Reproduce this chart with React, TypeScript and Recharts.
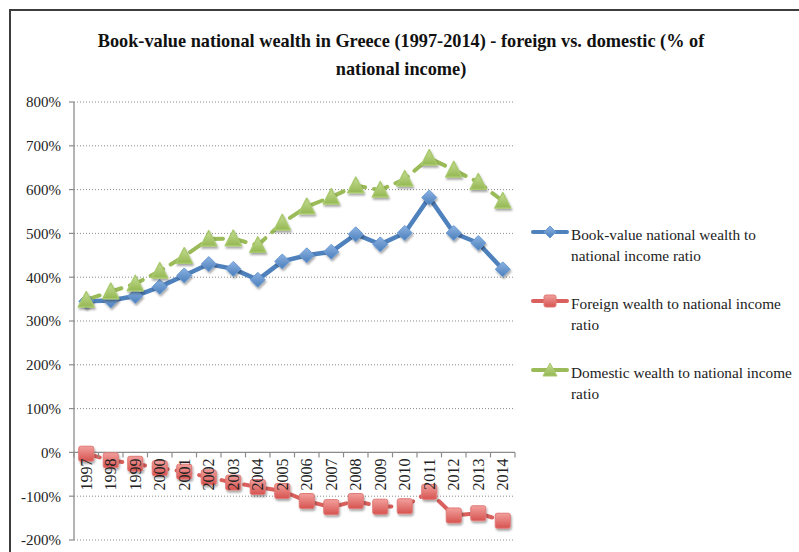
import React from 'react';
import { LineChart, Line, XAxis, YAxis, CartesianGrid, ReferenceLine } from 'recharts';

const YEARS = ['1997', '1998', '1999', '2000', '2001', '2002', '2003', '2004', '2005', '2006', '2007', '2008', '2009', '2010', '2011', '2012', '2013', '2014'];
const NATIONAL = [345, 347, 357, 378, 404, 430, 419, 394, 436, 450, 458, 498, 475, 501, 582, 501, 478, 418];
const FOREIGN = [-3, -18, -26, -36, -44, -57, -69, -79, -88, -111, -125, -111, -124, -123, -90, -144, -139, -156];
const DOMESTIC = [348, 367, 385, 414, 448, 487, 488, 473, 524, 561, 583, 609, 599, 624, 672, 645, 617, 574];
const Y_TICKS = [-200, -100, 0, 100, 200, 300, 400, 500, 600, 700, 800];
const SERIES_NAMES = [
  'Book-value national wealth to national income ratio',
  'Foreign wealth to national income ratio',
  'Domestic wealth to national income ratio',
];
const TITLE_LINES = ['Book-value national wealth in Greece (1997-2014) - foreign vs. domestic (% of', 'national income)'];

const data = YEARS.map((year, i) => ({
  year,
  national: NATIONAL[i],
  foreign: FOREIGN[i],
  domestic: DOMESTIC[i],
}));

const W = 799;
const H = 552;
const X_AXIS_H = 12;
const MARGIN = { top: 102, right: 284, bottom: 0, left: 0 };
const Y_AXIS_W = 74;
const Y_MIN = -200;
const Y_MAX = 800;
const FONT = '"Liberation Serif", "Times New Roman", serif';

const BLUE = '#4F81BD';
const RED = '#D9605C';
const GREEN = '#9BBB59';

const plotTop = MARGIN.top;
const plotBottom = H - MARGIN.bottom - X_AXIS_H;
const plotLeft = MARGIN.left + Y_AXIS_W;
const plotRight = W - MARGIN.right;
const zeroY = plotTop + ((Y_MAX - 0) / (Y_MAX - Y_MIN)) * (plotBottom - plotTop);
const band = (plotRight - plotLeft) / YEARS.length;

const Diamond = (p: any) => {
  const { cx, cy, index } = p;
  if (cx == null || cy == null) return <g key={`dm${index}`} />;
  const r = 7.5;
  return (
    <polygon
      key={`dm${index}`}
      points={`${cx},${cy - r} ${cx + r},${cy} ${cx},${cy + r} ${cx - r},${cy}`}
      fill="url(#gBlue)"
      stroke="#6A9AD4"
      strokeWidth={1}
      filter="url(#shadow)"
    />
  );
};

const Square = (p: any) => {
  const { cx, cy, index } = p;
  if (cx == null || cy == null) return <g key={`sq${index}`} />;
  const r = 7.5;
  return (
    <rect
      key={`sq${index}`}
      x={cx - r}
      y={cy - r}
      width={2 * r}
      height={2 * r}
      rx={2}
      fill="url(#gRed)"
      stroke="#E07A77"
      strokeWidth={1}
      filter="url(#shadow)"
    />
  );
};

const Triangle = (p: any) => {
  const { cx, cy, index } = p;
  if (cx == null || cy == null) return <g key={`tr${index}`} />;
  return (
    <polygon
      key={`tr${index}`}
      points={`${cx},${cy - 8.5} ${cx + 8},${cy + 7} ${cx - 8},${cy + 7}`}
      fill="url(#gGreen)"
      stroke="#A9C96E"
      strokeWidth={1.5}
      strokeLinejoin="round"
      filter="url(#shadow)"
    />
  );
};

const XTick = (p: any) => {
  const { x, payload, index } = p;
  const isLast = index === YEARS.length - 1;
  return (
    <g>
      <line x1={x - band / 2} y1={zeroY} x2={x - band / 2} y2={zeroY + 5} stroke="#8c8c8c" strokeWidth={1.2} />
      {isLast && <line x1={x + band / 2} y1={zeroY} x2={x + band / 2} y2={zeroY + 5} stroke="#8c8c8c" strokeWidth={1.2} />}
      <text
        transform={`translate(${x},${zeroY + 6}) rotate(-90)`}
        textAnchor="end"
        dominantBaseline="central"
        fontFamily={FONT}
        fontSize={16}
        fill="#222"
      >
        {payload.value}
      </text>
    </g>
  );
};

const LegendIcon = ({ kind, color }: { kind: number; color: string }) => (
  <svg width={38} height={16} style={{ flex: '0 0 auto', overflow: 'visible' }}>
    <line x1={2} y1={8} x2={36} y2={8} stroke={color} strokeWidth={4} strokeLinecap="round" />
    {kind === 0 && <polygon points="19,2 25,8 19,14 13,8" fill="url(#gBlueL)" stroke="#6A9AD4" />}
    {kind === 1 && <rect x={13} y={2} width={12} height={12} rx={2} fill="url(#gRedL)" stroke="#E07A77" />}
    {kind === 2 && <polygon points="19,1 26,14 12,14" fill="url(#gGreenL)" stroke="#A9C96E" strokeLinejoin="round" />}
    <defs>
      <linearGradient id="gBlueL" x1="0" y1="0" x2="0" y2="1">
        <stop offset="0" stopColor="#8DB3E2" />
        <stop offset="1" stopColor="#4A7EBB" />
      </linearGradient>
      <linearGradient id="gRedL" x1="0" y1="0" x2="0" y2="1">
        <stop offset="0" stopColor="#F2A09D" />
        <stop offset="1" stopColor="#D6534F" />
      </linearGradient>
      <linearGradient id="gGreenL" x1="0" y1="0" x2="0" y2="1">
        <stop offset="0" stopColor="#C7DE95" />
        <stop offset="1" stopColor="#94B752" />
      </linearGradient>
    </defs>
  </svg>
);

const COLORS = [BLUE, RED, GREEN];

export default function App() {
  return (
    <div style={{ position: 'absolute', left: 0, top: 0, width: W, height: H, overflow: 'hidden', background: '#fff' }}>
      <div
        style={{
          position: 'absolute',
          left: 9,
          top: 9,
          width: 830,
          height: 600,
          border: '2px solid #3d3d3d',
          boxSizing: 'border-box',
        }}
      />
      <div
        style={{
          position: 'absolute',
          left: 0,
          top: 27,
          width: 802,
          textAlign: 'center',
          fontFamily: FONT,
          fontWeight: 'bold',
          fontSize: 18.3,
          lineHeight: '28px',
          color: '#111',
        }}
      >
        {TITLE_LINES.map((t, i) => (
          <div key={i}>{t}</div>
        ))}
      </div>
      <div style={{ position: 'absolute', left: 0, top: 0 }}>
        <LineChart width={W} height={H} data={data} margin={MARGIN}>
          <defs>
            <filter id="shadow" x="-50%" y="-50%" width="200%" height="200%">
              <feDropShadow dx="1" dy="2" stdDeviation="1.2" floodColor="#000" floodOpacity="0.35" />
            </filter>
            <linearGradient id="gBlue" x1="0" y1="0" x2="0" y2="1">
              <stop offset="0" stopColor="#8DB3E2" />
              <stop offset="1" stopColor="#4A7EBB" />
            </linearGradient>
            <linearGradient id="gRed" x1="0" y1="0" x2="0" y2="1">
              <stop offset="0" stopColor="#F2A09D" />
              <stop offset="1" stopColor="#D6534F" />
            </linearGradient>
            <linearGradient id="gGreen" x1="0" y1="0" x2="0" y2="1">
              <stop offset="0" stopColor="#C7DE95" />
              <stop offset="1" stopColor="#94B752" />
            </linearGradient>
          </defs>
          <CartesianGrid vertical={false} stroke="#8a8a8a" strokeDasharray="1 2" />
          <YAxis
            type="number"
            domain={[Y_MIN, Y_MAX]}
            ticks={Y_TICKS}
            interval={0}
            width={Y_AXIS_W}
            tickFormatter={(v: number) => `${v}%`}
            tick={{ fontFamily: FONT, fontSize: 15, fill: '#222' }}
            axisLine={{ stroke: '#8c8c8c', strokeWidth: 1.3 }}
            tickLine={{ stroke: '#8c8c8c', strokeWidth: 1.2 }}
            tickSize={5}
            tickMargin={8}
          />
          <XAxis
            dataKey="year"
            height={X_AXIS_H}
            interval={0}
            padding={{ left: band / 2, right: band / 2 }}
            axisLine={false}
            tickLine={false}
            tick={(props: any) => <XTick {...props} />}
          />
          <ReferenceLine y={0} stroke="#8c8c8c" strokeWidth={1.3} />
          <Line
            dataKey="national"
            name={SERIES_NAMES[0]}
            stroke={BLUE}
            strokeWidth={4.5}
            dot={Diamond}
            activeDot={false}
            isAnimationActive={false}
          />
          <Line
            dataKey="foreign"
            name={SERIES_NAMES[1]}
            stroke={RED}
            strokeWidth={4}
            strokeDasharray="14 9"
            strokeLinecap="round"
            dot={Square}
            activeDot={false}
            isAnimationActive={false}
          />
          <Line
            dataKey="domestic"
            name={SERIES_NAMES[2]}
            stroke={GREEN}
            strokeWidth={4}
            strokeDasharray="14 9"
            strokeLinecap="round"
            dot={Triangle}
            activeDot={false}
            isAnimationActive={false}
          />
        </LineChart>
      </div>
      <div style={{ position: 'absolute', left: 531, top: 224, width: 268, fontFamily: FONT, fontSize: 15.3, color: '#222' }}>
        {SERIES_NAMES.map((name, i) => (
          <div key={name} style={{ display: 'flex', alignItems: 'flex-start', height: 69 }}>
            <div style={{ marginTop: 0, marginRight: 2 }}>
              <LegendIcon kind={i} color={COLORS[i]} />
            </div>
            <div style={{ lineHeight: '21px', width: 228 }}>{name}</div>
          </div>
        ))}
      </div>
    </div>
  );
}
